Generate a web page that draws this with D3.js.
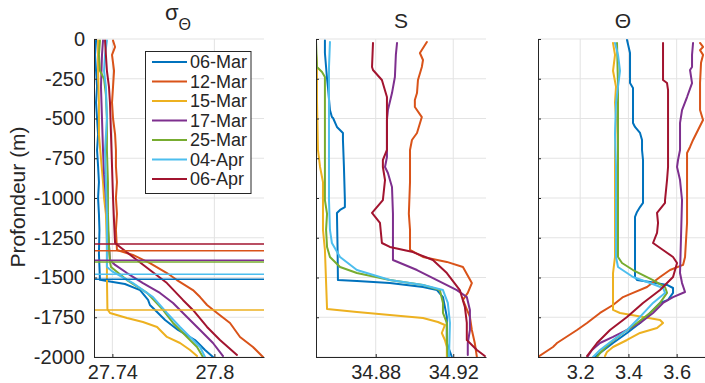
<!DOCTYPE html>
<html><head><meta charset="utf-8">
<script src="https://cdn.jsdelivr.net/npm/d3@7"></script>
<style>
body{margin:0;background:#fff;}
svg{display:block;font-family:"Liberation Sans",Arial,Helvetica,sans-serif;}
</style></head><body>
<svg id="c" width="705" height="383"></svg>
<script>
// ---------------- DATA ----------------
const dates = ["06-Mar","12-Mar","15-Mar","17-Mar","25-Mar","04-Apr","06-Apr"];
const depthTicks = [0,-250,-500,-750,-1000,-1250,-1500,-1750,-2000];
const sigmaTicks = [27.74, 27.8];
const salTicks = [34.88, 34.92];
const thetaTicks = [3.2, 3.4, 3.6];
// mixed-layer depth (m) per date
const mldDepth = [1511, 1332, 1705, 1392, 1403, 1480, 1290];

// sigma-theta profiles: [depth (m), value]
const sig06Mar = [[10,27.7304],[100,27.7298],[200,27.7304],[300,27.7310],[400,27.7304],[500,27.7310],[600,27.7316],[700,27.7310],[800,27.7316],[900,27.7321],[1000,27.7316],[1100,27.7321],[1200,27.7324],[1350,27.7321],[1515,27.7327],[1522,27.7368],[1541,27.7474],[1579,27.7563],[1641,27.7610],[1673,27.7621],[1704,27.7651],[1767,27.7710],[1830,27.7786],[1893,27.7886],[1925,27.7916],[1956,27.7945],[2000,27.7992]];
const sig12Mar = [[10,27.7404],[50,27.7416],[100,27.7398],[200,27.7410],[300,27.7404],[400,27.7398],[500,27.7404],[600,27.7416],[700,27.7421],[800,27.7421],[900,27.7427],[1000,27.7421],[1100,27.7427],[1200,27.7421],[1327,27.7427],[1358,27.7521],[1409,27.7621],[1472,27.7721],[1516,27.7780],[1579,27.7874],[1623,27.7916],[1673,27.7957],[1723,27.8016],[1786,27.8092],[1874,27.8151],[1937,27.8227],[2000,27.8286]];
const sig15Mar = [[10,27.7316],[200,27.7316],[400,27.7321],[600,27.7321],[750,27.7333],[900,27.7345],[1000,27.7351],[1100,27.7362],[1300,27.7368],[1500,27.7368],[1700,27.7371],[1723,27.7386],[1755,27.7486],[1780,27.7580],[1811,27.7663],[1874,27.7721],[1912,27.7798],[1956,27.7857],[1994,27.7898]];
const sig17Mar = [[10,27.7345],[100,27.7339],[300,27.7333],[500,27.7339],[700,27.7345],[850,27.7351],[1000,27.7362],[1200,27.7374],[1390,27.7386],[1421,27.7416],[1472,27.7486],[1535,27.7580],[1597,27.7680],[1660,27.7757],[1748,27.7839],[1830,27.7916],[1912,27.7992],[1994,27.8051]];
const sig25Mar = [[10,27.7327],[100,27.7321],[200,27.7327],[250,27.7351],[350,27.7362],[500,27.7368],[700,27.7368],[900,27.7374],[1100,27.7374],[1300,27.7380],[1402,27.7386],[1434,27.7392],[1516,27.7486],[1597,27.7604],[1704,27.7698],[1786,27.7757],[1874,27.7839],[1937,27.7898],[2000,27.7933]];
const sig04Apr = [[10,27.7368],[100,27.7357],[200,27.7351],[300,27.7362],[500,27.7368],[700,27.7357],[900,27.7362],[1100,27.7368],[1300,27.7368],[1434,27.7368],[1465,27.7404],[1535,27.7521],[1623,27.7639],[1723,27.7721],[1811,27.7798],[1874,27.7857],[1937,27.7916],[2000,27.7945]];
const sig06Apr = [[10,27.7357],[100,27.7362],[200,27.7368],[300,27.7380],[400,27.7386],[600,27.7392],[800,27.7398],[1000,27.7404],[1150,27.7410],[1283,27.7416],[1308,27.7445],[1371,27.7521],[1453,27.7621],[1535,27.7721],[1641,27.7815],[1704,27.7874],[1811,27.7957],[1893,27.8033],[1987,27.8133]];

// salinity profiles
const sal06Mar = [[10,34.8538],[88,34.8538],[250,34.8549],[308,34.8554],[447,34.8564],[491,34.8574],[497,34.8580],[553,34.8600],[591,34.8631],[635,34.8631],[800,34.8636],[1013,34.8641],[1057,34.8641],[1075,34.8616],[1094,34.8600],[1300,34.8603],[1497,34.8605],[1516,34.8605],[1522,34.8703],[1535,34.8873],[1560,34.9044],[1579,34.9116],[1623,34.9147],[1748,34.9167],[1912,34.9167],[2000,34.9193]];
const sal12Mar = [[19,34.9064],[88,34.9028],[132,34.9044],[176,34.9038],[258,34.9018],[340,34.9013],[384,34.9002],[428,34.9002],[491,34.9038],[591,34.9013],[635,34.8987],[698,34.8977],[900,34.8977],[1100,34.8971],[1200,34.8977],[1327,34.8977],[1371,34.9044],[1402,34.9167],[1434,34.9250],[1535,34.9296],[1597,34.9275],[1641,34.9250],[1748,34.9286],[1830,34.9296],[1912,34.9311],[2000,34.9322]];
const sal15Mar = [[10,34.8485],[151,34.8497],[384,34.8497],[698,34.8502],[805,34.8513],[900,34.8528],[1013,34.8528],[1201,34.8528],[1327,34.8538],[1698,34.8549],[1717,34.8703],[1736,34.8873],[1755,34.9044],[1780,34.9121],[1799,34.9157],[1849,34.9141],[1893,34.9157],[1937,34.9167],[2000,34.9167]];
const sal17Mar = [[25,34.8910],[100,34.8904],[239,34.8899],[340,34.8884],[447,34.8863],[509,34.8858],[742,34.8858],[805,34.8848],[843,34.8863],[931,34.8884],[1100,34.8889],[1390,34.8889],[1453,34.9013],[1516,34.9116],[1579,34.9219],[1623,34.9270],[1704,34.9286],[1830,34.9286],[1912,34.9275],[1987,34.9275]];
const sal25Mar = [[10,34.8492],[176,34.8497],[208,34.8523],[239,34.8538],[1013,34.8538],[1100,34.8549],[1200,34.8544],[1308,34.8549],[1371,34.8564],[1434,34.8616],[1472,34.8703],[1516,34.8873],[1547,34.9044],[1579,34.9131],[1660,34.9147],[1723,34.9147],[1786,34.9167],[1893,34.9167],[2000,34.9172]];
const sal04Apr = [[19,34.8564],[176,34.8559],[1013,34.8559],[1201,34.8564],[1283,34.8574],[1371,34.8616],[1453,34.8703],[1516,34.8873],[1547,34.9044],[1579,34.9147],[1660,34.9172],[1786,34.9183],[2000,34.9178]];
const sal06Apr = [[25,34.8786],[176,34.8781],[195,34.8786],[258,34.8832],[365,34.8858],[491,34.8858],[698,34.8858],[761,34.8837],[805,34.8837],[887,34.8848],[1013,34.8837],[1094,34.8781],[1157,34.8822],[1283,34.8832],[1308,34.8873],[1340,34.8992],[1390,34.9095],[1472,34.9167],[1579,34.9234],[1685,34.9260],[1786,34.9270],[1893,34.9270],[1956,34.9322],[1994,34.9363]];

// conservative temperature profiles
const th06Mar = [[6,3.3942],[88,3.4066],[277,3.4066],[308,3.4190],[528,3.4190],[553,3.4273],[591,3.4481],[635,3.4564],[698,3.4564],[761,3.4605],[1031,3.4605],[1057,3.4481],[1088,3.4356],[1119,3.4273],[1497,3.4273],[1516,3.4356],[1528,3.4896],[1547,3.5601],[1566,3.5850],[1597,3.5850],[1641,3.5643],[1660,3.5311],[1723,3.4896],[1786,3.4481],[1849,3.3942],[1912,3.3361],[1975,3.2822],[2000,3.2614]];
const th12Mar = [[25,3.6970],[50,3.7094],[70,3.6970],[100,3.7094],[150,3.7011],[277,3.6970],[447,3.6970],[509,3.7094],[572,3.6887],[635,3.6680],[679,3.6555],[717,3.6431],[1013,3.6431],[1157,3.6431],[1371,3.6348],[1421,3.6265],[1453,3.5725],[1497,3.5311],[1560,3.4771],[1597,3.4190],[1623,3.3776],[1673,3.3361],[1723,3.2822],[1786,3.2282],[1830,3.1868],[1912,3.1038],[1925,3.0955],[1937,3.0872],[2000,3.0250]];
const th15Mar = [[25,3.3361],[100,3.3444],[200,3.3361],[300,3.3485],[400,3.3444],[500,3.3485],[700,3.3444],[1000,3.3444],[1371,3.3444],[1472,3.3361],[1704,3.3361],[1723,3.3651],[1748,3.4605],[1767,3.5311],[1786,3.5435],[1818,3.5186],[1849,3.4481],[1893,3.3942],[1937,3.3361],[1968,3.3112],[1994,3.3029]];
const th17Mar = [[25,3.6680],[100,3.6638],[176,3.6638],[195,3.6555],[277,3.6638],[365,3.6431],[447,3.6223],[528,3.6140],[698,3.6140],[761,3.6057],[805,3.6016],[887,3.6140],[1013,3.6223],[1472,3.6140],[1535,3.6223],[1591,3.6348],[1623,3.5850],[1660,3.5435],[1723,3.5020],[1786,3.4481],[1830,3.3942],[1874,3.3361],[1912,3.2822],[1956,3.2490],[1994,3.2324]];
const th25Mar = [[25,3.3527],[300,3.3568],[600,3.3568],[1000,3.3568],[1371,3.3568],[1409,3.3734],[1453,3.4190],[1516,3.5020],[1560,3.5518],[1597,3.5601],[1660,3.5311],[1723,3.4896],[1786,3.4356],[1849,3.3776],[1912,3.3236],[1975,3.2822],[2000,3.2697]];
const th04Apr = [[25,3.3444],[100,3.3568],[200,3.3651],[300,3.3568],[400,3.3485],[600,3.3444],[800,3.3485],[1000,3.3485],[1371,3.3485],[1434,3.3568],[1497,3.4190],[1535,3.4896],[1566,3.5435],[1597,3.5518],[1660,3.5020],[1748,3.4481],[1830,3.3942],[1893,3.3361],[1956,3.2822],[2000,3.2531]];
const th06Apr = [[25,3.5435],[258,3.5435],[277,3.5601],[321,3.5643],[805,3.5643],[887,3.5601],[1013,3.5518],[1031,3.5518],[1094,3.5186],[1157,3.5228],[1220,3.5186],[1283,3.5020],[1327,3.5435],[1371,3.5850],[1409,3.6016],[1497,3.5850],[1579,3.5311],[1660,3.4605],[1748,3.3942],[1830,3.3236],[1912,3.2697],[1994,3.2282]];

// ---------------- STYLE / LAYOUT ----------------
const colors = ["#0072BD","#D95319","#EDB120","#7E2F8E","#77AC30","#4DBEEE","#A2142F"];
const textCol = "#262626", axisCol = "#262626", gridCol = "#e3e3e3";
const plotTop = 39, plotBottom = 357;

const panels = [
  {x0:94,  x1:264, domain:[27.7292,27.8292], ticks:sigmaTicks, series:[sig06Mar,sig12Mar,sig15Mar,sig17Mar,sig25Mar,sig04Apr,sig06Apr], yLabels:true, mld:true},
  {x0:316, x1:486, domain:[34.8492,34.9369], ticks:salTicks,   series:[sal06Mar,sal12Mar,sal15Mar,sal17Mar,sal25Mar,sal04Apr,sal06Apr]},
  {x0:538, x1:708, domain:[3.025,3.730],     ticks:thetaTicks, series:[th06Mar,th12Mar,th15Mar,th17Mar,th25Mar,th04Apr,th06Apr]}
];

const svg = d3.select("#c");
const y = d3.scaleLinear().domain([0,-2000]).range([plotTop,plotBottom]);

panels.forEach((p,pi)=>{
  const x = d3.scaleLinear().domain(p.domain).range([p.x0,p.x1]);
  const g = svg.append("g");
  const cid = "clip"+pi;
  svg.append("clipPath").attr("id",cid).append("rect")
     .attr("x",p.x0).attr("y",plotTop-1).attr("width",p.x1-p.x0).attr("height",plotBottom-plotTop+2);
  // grid
  g.append("g").selectAll("line").data(depthTicks).join("line")
    .attr("x1",p.x0).attr("x2",p.x1).attr("y1",d=>y(d)).attr("y2",d=>y(d))
    .attr("stroke",gridCol).attr("stroke-width",1);
  g.append("g").selectAll("line").data(p.ticks).join("line")
    .attr("x1",d=>x(d)).attr("x2",d=>x(d)).attr("y1",plotTop).attr("y2",plotBottom)
    .attr("stroke",gridCol).attr("stroke-width",1);
  // profiles
  const line = d3.line().x(d=>x(d[1])).y(d=>y(-d[0]));
  const lg = g.append("g").attr("clip-path",`url(#${cid})`);
  p.series.forEach((s,i)=>{
    lg.append("path").attr("d",line(s)).attr("fill","none")
      .attr("stroke",colors[i]).attr("stroke-width",2)
      .attr("stroke-linejoin","round").attr("stroke-linecap","round");
  });
  if(p.mld){
    mldDepth.forEach((m,i)=>{
      lg.append("line").attr("x1",p.x0).attr("x2",p.x1)
        .attr("y1",y(-m)).attr("y2",y(-m))
        .attr("stroke",colors[i]).attr("stroke-width",1.5);
    });
  }
  // axes
  const ax = d3.axisBottom(x).tickValues(p.ticks).tickSizeInner(-3).tickSizeOuter(0).tickPadding(8)
    .tickFormat(d=>String(d));
  const gx = svg.append("g").attr("transform",`translate(0,${plotBottom})`).call(ax);
  const ay = d3.axisLeft(y).tickValues(depthTicks).tickSizeInner(-3).tickSizeOuter(0).tickPadding(9)
    .tickFormat(d=>p.yLabels?String(d):"");
  const gy = svg.append("g").attr("transform",`translate(${p.x0},0)`).call(ay);
  [gx,gy].forEach(a=>{
    a.selectAll("path").attr("stroke",axisCol).attr("stroke-width",1);
    a.selectAll("line").attr("stroke",axisCol);
    a.selectAll("text").attr("fill",textCol).style("font-size","20px")
      .style("font-family",'"Liberation Sans",Arial,sans-serif');
  });
});

// titles
const t1 = svg.append("text").attr("x",178).attr("y",20).attr("text-anchor","middle")
  .attr("fill",textCol).style("font-size","22px");
t1.append("tspan").text("σ");
t1.append("tspan").attr("dy",10).style("font-size","16px").text("Θ");
svg.append("text").attr("x",401).attr("y",28).attr("text-anchor","middle")
  .attr("fill",textCol).style("font-size","21px").text("S");
svg.append("text").attr("x",623).attr("y",28).attr("text-anchor","middle")
  .attr("fill",textCol).style("font-size","21px").text("Θ");

// y label
svg.append("text").attr("transform","translate(25,197) rotate(-90)")
  .attr("text-anchor","middle").attr("fill",textCol).style("font-size","21px")
  .text("Profondeur (m)");

// legend
const leg = svg.append("g");
leg.append("rect").attr("x",145.5).attr("y",51.5).attr("width",105.5).attr("height",142)
  .attr("fill","#fff").attr("stroke",axisCol).attr("stroke-width",1);
dates.forEach((d,i)=>{
  const yy = 62 + i*19.5;
  leg.append("line").attr("x1",152).attr("x2",187).attr("y1",yy).attr("y2",yy)
    .attr("stroke",colors[i]).attr("stroke-width",2);
  leg.append("text").attr("x",190).attr("y",yy).attr("dy","0.35em")
    .attr("fill",textCol).style("font-size","18px").text(d);
});
</script>
</body></html>
